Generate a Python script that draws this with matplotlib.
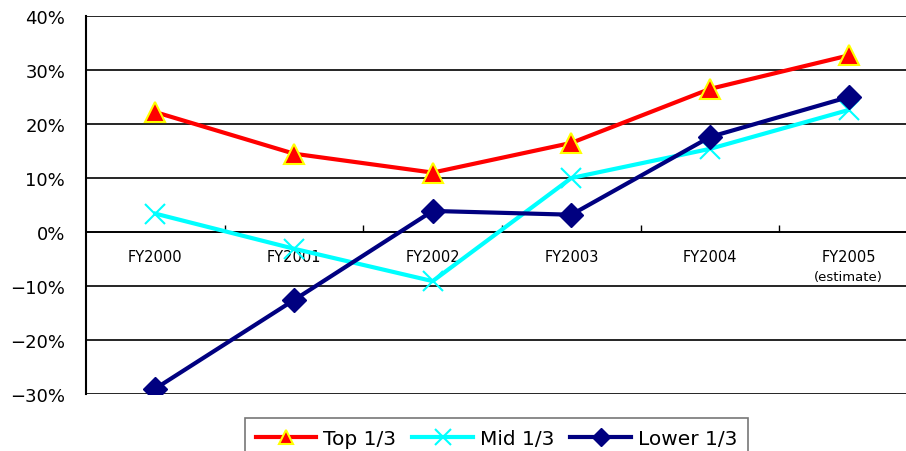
import matplotlib
matplotlib.use("Agg")
import matplotlib.pyplot as plt
from matplotlib.ticker import FixedLocator, FuncFormatter

categories = ["FY2000", "FY2001", "FY2002", "FY2003", "FY2004", "FY2005"]
top_third = [22.2, 14.5, 11.0, 16.5, 26.5, 32.7]
mid_third = [3.4, -3.1, -9.1, 10.0, 15.4, 22.6]
lower_third = [-29.0, -12.6, 3.9, 3.2, 17.6, 25.0]
y_ticks = [-30, -20, -10, 0, 10, 20, 30, 40]

fig = plt.figure(figsize=(9.06, 4.52), dpi=100)
ax = fig.add_axes([86 / 906, 1 - 395 / 452, 832 / 906, 378 / 452])

x = list(range(len(categories)))
ax.plot(x, top_third, color="#FF0000", lw=3, marker="^", ms=14,
        mfc="#FF0000", mec="#FFFF00", mew=1.5, label="Top 1/3", zorder=3)
ax.plot(x, mid_third, color="#00FFFF", lw=3, marker="x", ms=15,
        mew=1.5, label="Mid 1/3", zorder=3)
ax.plot(x, lower_third, color="#000080", lw=3, marker="D", ms=12,
        mfc="#000080", mec="#000080", label="Lower 1/3", zorder=4)

ax.set_xlim(-0.5, len(categories) - 0.5)
ax.set_ylim(-30, 40)
ax.yaxis.set_major_locator(FixedLocator(y_ticks))
ax.yaxis.set_major_formatter(FuncFormatter(lambda v, _: f"{int(v)}%".replace("-", "\u2212")))
ax.tick_params(axis="y", length=0, pad=15, labelsize=13)
ax.grid(axis="y", color="black", lw=1.2)
ax.set_axisbelow(True)

# category axis sits on the zero line, ticks between categories
for side in ("top", "right"):
    ax.spines[side].set_visible(False)
ax.spines["bottom"].set_position(("data", 0))
ax.spines["left"].set_linewidth(1.5)
ax.spines["bottom"].set_linewidth(1.2)
ax.set_xticks(x)
ax.set_xticklabels(categories, fontsize=10.5)
ax.set_xticks([i + 0.5 for i in x[:-1]], minor=True)
ax.tick_params(axis="x", which="major", length=0, pad=12)
ax.tick_params(axis="x", which="minor", direction="in", length=5, width=1)
ax.annotate("(estimate)", xy=(5, 0), xytext=(0, -27), textcoords="offset points",
            ha="center", va="top", fontsize=9.5)

leg = fig.legend(loc="upper center", bbox_to_anchor=(0.548, 1 - 419 / 452), ncol=3,
                 fontsize=14.5, frameon=True, fancybox=False, edgecolor="#555555",
                 handlelength=3.0, handletextpad=0.35, columnspacing=0.8,
                 borderpad=0.55, borderaxespad=0, markerscale=0.75)
leg.get_frame().set_linewidth(1.2)

fig.savefig("out.png", dpi=100)
